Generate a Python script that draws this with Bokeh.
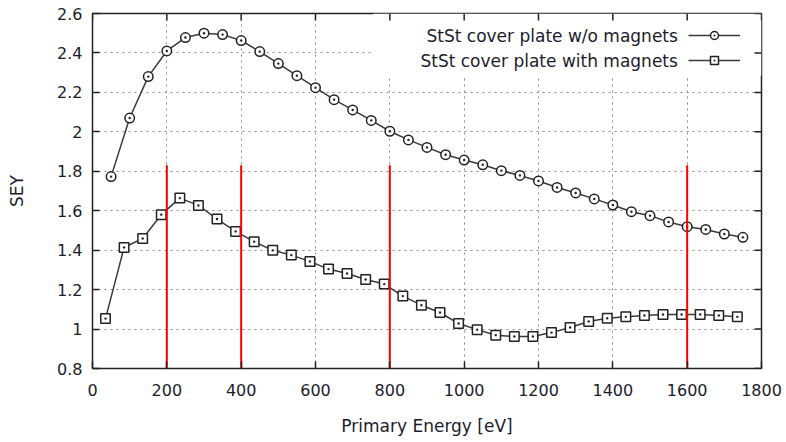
import math
from bokeh.plotting import figure
from bokeh.models import Range1d, FixedTicker, Label, Legend, LegendItem, BoxAnnotation
from bokeh.embed import file_html
from bokeh.resources import INLINE

# ---- data ----
energy_wo = [50, 100, 150, 200, 250, 300, 350, 400, 450, 500, 550, 600, 650, 700, 750,
             800, 850, 900, 950, 1000, 1050, 1100, 1150, 1200, 1250, 1300, 1350, 1400,
             1450, 1500, 1550, 1600, 1650, 1700, 1750]
sey_wo = [1.773, 2.07, 2.28, 2.41, 2.478, 2.50, 2.493, 2.463, 2.407, 2.346, 2.285, 2.224,
          2.163, 2.111, 2.058, 2.003, 1.959, 1.921, 1.884, 1.857, 1.833, 1.803, 1.779,
          1.751, 1.718, 1.690, 1.660, 1.629, 1.595, 1.575, 1.543, 1.519, 1.505, 1.482,
          1.465]
energy_with = [35, 85, 135, 185, 235, 285, 335, 385, 435, 485, 535, 585, 635, 685, 735,
               785, 835, 885, 935, 985, 1035, 1085, 1135, 1185, 1235, 1285, 1335, 1385,
               1435, 1485, 1535, 1585, 1635, 1685, 1735]
sey_with = [1.053, 1.414, 1.459, 1.580, 1.664, 1.627, 1.558, 1.495, 1.443, 1.399, 1.375,
            1.343, 1.304, 1.282, 1.251, 1.228, 1.167, 1.121, 1.084, 1.028, 0.997, 0.969,
            0.962, 0.962, 0.982, 1.008, 1.038, 1.055, 1.062, 1.069, 1.074, 1.074, 1.074,
            1.069, 1.062]
marker_energies = [200, 400, 800, 1600]
marker_bottom = [0.8, 0.8, 0.8, 0.8]
marker_top = [1.83, 1.83, 1.83, 1.83]

x_ticks = [0, 200, 400, 600, 800, 1000, 1200, 1400, 1600, 1800]
y_ticks = [0.8, 1.0, 1.2, 1.4, 1.6, 1.8, 2.0, 2.2, 2.4, 2.6]
y_tick_labels = ["0.8", "1", "1.2", "1.4", "1.6", "1.8", "2", "2.2", "2.4", "2.6"]
legend_labels = ["StSt cover plate w/o magnets", "StSt cover plate with magnets"]

X_MIN, X_MAX = 0, 1800
Y_MIN, Y_MAX = 0.8, 2.6

FONT = "DejaVu Sans"
TEXT = "#1c1c2c"
LINE = "#3a3a3a"
FS_TICK = "16px"
FS = "17px"

p = figure(width=786, height=442, output_backend="svg", toolbar_location=None,
           x_range=Range1d(X_MIN, X_MAX), y_range=Range1d(Y_MIN, Y_MAX),
           min_border_left=92, min_border_right=25, min_border_top=13,
           min_border_bottom=74)
p.outline_line_color = "#222222"
p.outline_line_width = 1.5
p.background_fill_color = "white"
p.border_fill_color = "white"

for ax in (p.xaxis[0], p.yaxis[0]):
    ax.axis_line_color = None
    ax.major_tick_in = 7
    ax.major_tick_out = 0
    ax.minor_tick_line_color = None
    ax.major_tick_line_color = "#222222"
    ax.major_tick_line_width = 1.5
    ax.major_label_text_font = FONT
    ax.major_label_text_font_size = FS_TICK
    ax.major_label_text_color = TEXT
    ax.axis_label_text_font = FONT
    ax.axis_label_text_font_size = FS
    ax.axis_label_text_font_style = "normal"
    ax.axis_label_text_color = TEXT

p.xaxis.ticker = FixedTicker(ticks=x_ticks)
p.yaxis.ticker = FixedTicker(ticks=y_ticks)
p.yaxis.major_label_overrides = {t: l for t, l in zip(y_ticks, y_tick_labels)}
p.xaxis.axis_label = "Primary Energy [eV]"
p.yaxis.axis_label = "SEY"
p.xaxis.major_label_standoff = 15
p.yaxis.major_label_standoff = 10
p.xaxis.axis_label_standoff = 17
p.yaxis.axis_label_standoff = 27

p.grid.grid_line_color = "#8a8a8a"
p.grid.grid_line_dash = "2 4"
p.grid.grid_line_width = 1

# white legend area hiding the grid
p.add_layout(BoxAnnotation(left=755, bottom=2.285, fill_color="white", fill_alpha=1,
                           line_color=None, level="underlay"))

# mirrored ticks on top and right edges (half of each dash is clipped by the frame)
p.scatter(x_ticks, [Y_MAX] * len(x_ticks), marker="dash", angle=math.pi / 2, size=14,
          line_color="#222222", line_width=1.5)
p.scatter([X_MAX] * len(y_ticks), y_ticks, marker="dash", size=14,
          line_color="#222222", line_width=1.5)

l1 = p.line(energy_wo, sey_wo, line_color=LINE, line_width=1.5)
s1 = p.scatter(energy_wo, sey_wo, marker="circle_dot", size=9.5, line_color="#222222",
               line_width=1.5, fill_color="white")
l2 = p.line(energy_with, sey_with, line_color=LINE, line_width=1.5)
s2 = p.scatter(energy_with, sey_with, marker="square_dot", size=9.5, line_color="#222222",
               line_width=1.5, fill_color="white")

p.segment(x0=marker_energies, y0=marker_bottom, x1=marker_energies, y1=marker_top,
          line_color="#ff0000", line_width=2)

legend = Legend(items=[LegendItem(label=" ", renderers=[l1, s1]),
                       LegendItem(label=" ", renderers=[l2, s2])],
                location=(596, 298), padding=0, margin=0, spacing=5,
                glyph_width=52, glyph_height=20, label_standoff=0,
                label_text_font_size=FS, label_height=20,
                background_fill_alpha=0, border_line_color=None)
p.add_layout(legend, "center")

for lab, yv in zip(legend_labels, [2.488, 2.361]):
    p.add_layout(Label(x=1575, y=yv, text=lab, text_align="right", text_baseline="middle",
                       text_font=FONT, text_font_size=FS, text_color=TEXT))

open("out.html", "w").write(file_html(p, INLINE))
